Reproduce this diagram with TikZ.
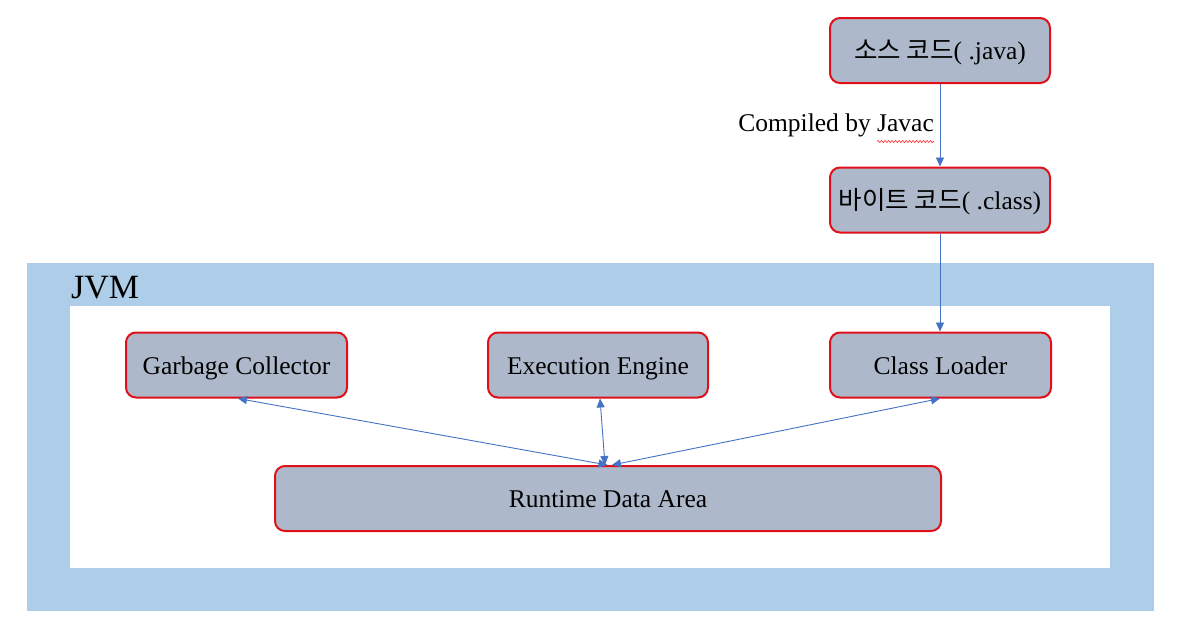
\documentclass[tikz,border=0pt]{standalone}
\usepackage{fontspec}
\setmainfont{Liberation Serif}
\newfontfamily\kr{Noto Sans CJK KR}
\usetikzlibrary{arrows.meta,decorations.pathmorphing}
\definecolor{jvmblue}{HTML}{AECDE8}
\definecolor{boxfill}{HTML}{ADB9CA}
\definecolor{boxred}{HTML}{E0101A}
\definecolor{arrowblue}{HTML}{4472C4}
\tikzset{
  box/.style={draw=boxred, line width=2pt, fill=boxfill, rounded corners=10pt,
    minimum width=220pt, minimum height=65pt, inner sep=0pt,
    text height=20pt, text depth=2pt,
    font=\fontsize{25.5}{30}\selectfont},
  conn/.style={draw=arrowblue, line width=0.9pt, -{Triangle[width=8pt,length=9pt]}},
  biconn/.style={draw=arrowblue, line width=0.9pt, {Triangle[width=8pt,length=9pt]}-{Triangle[width=8pt,length=9pt]}},
}
\begin{document}
\begin{tikzpicture}[x=1pt,y=-1pt]
\useasboundingbox (0,0) rectangle (1201,630);
\fill[white] (0,0) rectangle (1201,630);
% JVM frame
\fill[jvmblue] (27,263) rectangle (1154,611);
\fill[white] (70,306) rectangle (1110,568);
\node[anchor=base west, inner sep=0pt, font=\fontsize{34}{40}\selectfont] (jvm) at (71,298) {JVM};
% nodes
\node[box] (src) at (940,50.5) {{\kr 소스 코드}( .java)};
\node[box] (byte) at (940,200) {{\kr 바이트 코드}( .class)};
\node[box, minimum width=221pt] (gc) at (236.5,365) {Garbage Collector};
\node[box] (exec) at (598,365) {Execution Engine};
\node[box, minimum width=221pt] (cl) at (940.5,365) {Class Loader};
\node[box, minimum width=666pt] (rda) at (608,498.5) {Runtime Data Area};
% label
\node[anchor=base east, inner sep=0pt, font=\fontsize{25.5}{30}\selectfont] (lbl) at (934,131) {Compiled by Javac};
\coordinate (wl) at (877,141.5);
\coordinate (wr) at (934,141.5);
\draw[red!85, line width=0.6pt, decorate, decoration={snake, amplitude=1pt, segment length=3.5pt}] (wl) -- (wr);
% connectors
\draw[conn] (src.south -| 940,0) -- (byte.north -| 940,0);
\draw[conn] (byte.south) -- (cl.north -| byte.south);
\draw[biconn] ([xshift=-0.5pt]rda.north) -- ([xshift=1.5pt]gc.south);
\draw[biconn] ([xshift=-3pt]rda.north) -- ([xshift=2pt]exec.south);
\draw[biconn] ([xshift=4pt]rda.north) -- ([xshift=-0.5pt]cl.south);
\end{tikzpicture}
\end{document}
